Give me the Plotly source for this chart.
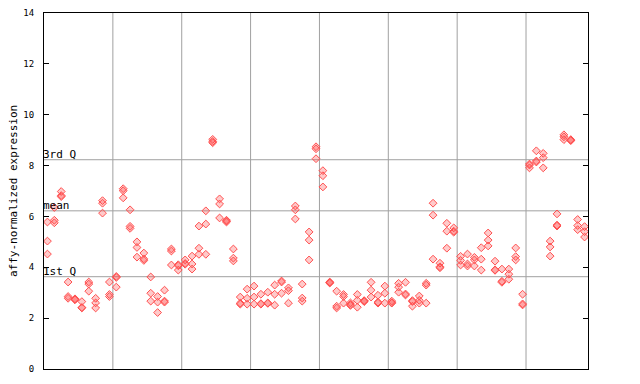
import plotly.graph_objects as go

# replicate values per sample (79 samples)
rep_a = [5.78, 6.35, 6.98, 3.42, 2.76, 2.65, 3.42, 2.78, 6.62, 3.42,
         3.64, 7.09, 6.26, 5.00, 4.56, 3.62, 2.85, 3.10, 4.72, 4.10,
         4.29, 4.44, 5.62, 6.22, 9.03, 6.69, 5.85, 4.72, 2.83, 3.14,
         3.26, 2.94, 3.02, 3.30, 3.46, 3.19, 6.41, 3.34, 5.39, 8.74,
         7.80, 3.42, 3.06, 2.93, 2.60, 2.93, 2.69, 3.41, 2.90, 3.26,
         2.67, 3.37, 3.41, 2.69, 2.87, 3.37, 6.52, 4.16, 5.73, 5.55,
         4.43, 4.52, 4.39, 4.77, 5.35, 4.24, 3.93, 3.93, 4.76, 2.94,
         8.06, 8.58, 8.48, 5.03, 6.10, 9.21, 9.02, 5.88, 5.60]
rep_b = [5.03, 5.85, 6.82, 2.85, 2.74, 2.42, 3.34, 2.60, 6.52, 2.93,
         3.60, 7.01, 5.61, 4.78, 4.33, 2.98, 2.63, 2.67, 4.64, 4.06,
         4.15, 4.13, 4.75, 5.70, 8.95, 6.49, 5.82, 4.36, 2.59, 2.78,
         2.83, 2.57, 2.60, 2.94, 3.42, 3.08, 6.26, 2.79, 5.07, 8.66,
         7.60, 3.40, 2.47, 2.85, 2.54, 2.70, 2.67, 3.10, 2.63, 2.98,
         2.61, 3.22, 2.95, 2.65, 2.70, 3.30, 6.05, 4.02, 5.42, 5.42,
         4.27, 4.13, 4.29, 4.32, 5.07, 3.90, 3.45, 3.73, 4.42, 2.56,
         8.02, 8.18, 8.31, 4.80, 5.66, 9.13, 9.00, 5.64, 5.40]
rep_c = [4.52, 5.75, 6.78, 2.78, 2.72, 2.40, 3.06, 2.40, 6.13, 2.85,
         3.22, 6.73, 5.53, 4.40, 4.27, 2.67, 2.22, 2.63, 4.09, 3.89,
         4.12, 3.93, 4.51, 4.51, 8.90, 5.94, 5.78, 4.25, 2.55, 2.55,
         2.55, 2.55, 2.58, 2.51, 2.98, 2.59, 5.90, 2.67, 4.29, 8.27,
         7.16, 3.38, 2.40, 2.59, 2.50, 2.43, 2.65, 2.83, 2.59, 2.59,
         2.59, 3.02, 2.91, 2.47, 2.59, 2.59, 4.32, 3.98, 4.75, 5.38,
         4.09, 4.05, 4.05, 3.89, 4.84, 3.88, 3.41, 3.53, 4.29, 2.52,
         7.91, 8.14, 7.91, 4.44, 5.62, 9.02, 8.98, 5.48, 5.19]

sample_index = list(range(len(rep_a)))
group_size = 10
quantile_names = ["1st Q", "mean", "3rd Q"]
quantile_values = [3.63, 6.22, 8.23]
y_ticks = [0, 2, 4, 6, 8, 10, 12, 14]

RED = "#ff5050"
mono = "DejaVu Sans Mono"

fig = go.Figure()
for reps in (rep_a, rep_b, rep_c):
    fig.add_trace(go.Scatter(
        x=sample_index, y=reps, mode="markers",
        marker=dict(symbol="diamond", size=6, color="rgba(255,80,80,0.3)",
                    line=dict(color=RED, width=1)),
        showlegend=False, hoverinfo="y"))

n = len(sample_index)
shapes = []
for b in range(group_size, n, group_size):
    shapes.append(dict(type="line", xref="x", yref="paper", x0=b - 0.5, x1=b - 0.5,
                       y0=0, y1=1, line=dict(color="#a0a0a0", width=1), layer="below"))
annotations = []
for name, v in zip(quantile_names, quantile_values):
    shapes.append(dict(type="line", xref="paper", yref="y", x0=0, x1=1, y0=v, y1=v,
                       line=dict(color="#a0a0a0", width=1), layer="below"))
    annotations.append(dict(xref="paper", yref="y", x=0, y=v, text=name, showarrow=False,
                            xanchor="left", yanchor="bottom", yshift=-3, xshift=-3,
                            font=dict(family=mono, size=11, color="black")))
annotations.append(dict(xref="paper", yref="paper", x=0, y=0.5, xshift=-31,
                        text="affy-normalized expression", textangle=-90, showarrow=False,
                        xanchor="center", yanchor="middle",
                        font=dict(family=mono, size=11, color="black")))

fig.update_layout(
    width=640, height=384,
    margin=dict(l=36, r=60, t=5, b=23, autoexpand=False),
    paper_bgcolor="white", plot_bgcolor="white",
    shapes=shapes, annotations=annotations,
    font=dict(family=mono, size=10, color="black"),
    xaxis=dict(range=[-0.5, n - 0.5], showticklabels=False, ticks="", showgrid=False,
               zeroline=False, showline=True, linecolor="black", linewidth=1, mirror=True,
               automargin=False),
    yaxis=dict(range=[0, 14], tickvals=y_ticks, ticks="inside", ticklen=5, tickcolor="black",
               showgrid=False, zeroline=False, showline=True, linecolor="black", linewidth=1,
               mirror="ticks", automargin=False, ticklabelstandoff=7,
               ticklabeloverflow="allow", tickfont=dict(family=mono, size=9)),
)
fig.write_html("out.html")
